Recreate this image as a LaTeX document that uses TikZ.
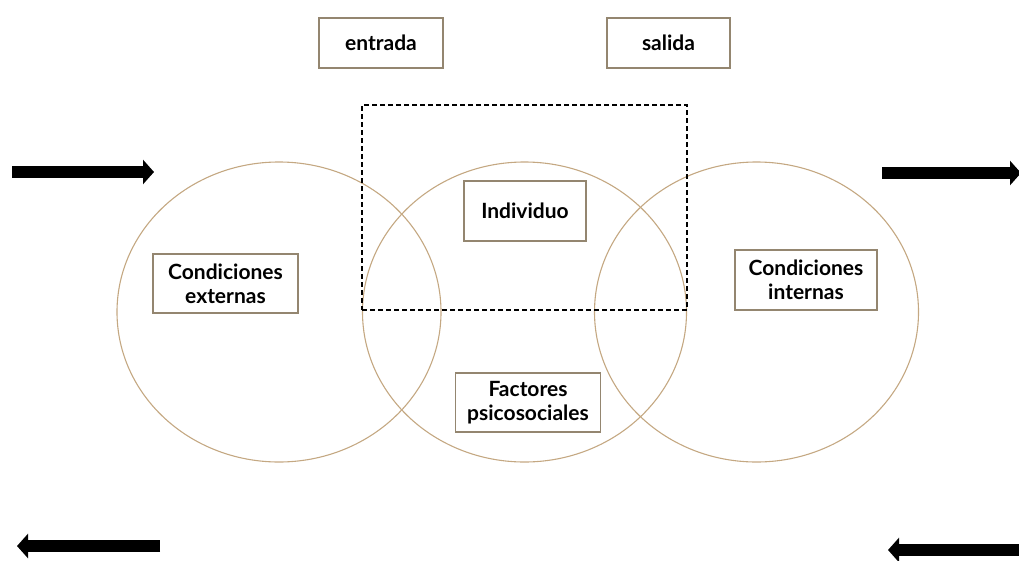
\documentclass[tikz,border=0pt]{standalone}
\usepackage{fontspec}
\setmainfont{Lato}
\usetikzlibrary{positioning, calc, shapes.geometric, arrows.meta}

\definecolor{ringcol}{RGB}{196,168,130}
\definecolor{boxcol}{RGB}{148,134,112}

\begin{document}
\begin{tikzpicture}[x=1pt, y=-1pt,
% Define custom styles for the rings, labels and arrows
    ring/.style={
        draw=ringcol,
        ellipse,
        line width=1.1pt,
        inner sep=0pt,
        minimum width=324pt,
        minimum height=300pt
        },
    labelbox/.style={
        draw=boxcol,
        rectangle,
        line width=1.1pt,
        fill=white,
        align=center,
        inner sep=0pt,
        font=\bfseries\fontsize{21}{24}\selectfont
        },
    bigarrow/.style={
        line width=12pt,
        -{Triangle[length=11pt, width=24pt]}
        }
]
\useasboundingbox (0,0) rectangle (1019,560);

\node[ring] (EXT) at (279,312) {};
\node[ring] (MID) at (524.5,312) {};
\node[ring] (INT) at (756.5,312) {};

\node[draw, dashed, dash pattern=on 5pt off 3pt, line width=1.1pt, inner sep=0pt,
      minimum width=325pt, minimum height=205pt] (SYS) at (524.5,207.5) {};

\node[labelbox, minimum width=124pt, minimum height=50pt] (IN) at (381,43) {entrada};
\node[labelbox, minimum width=123pt, minimum height=50pt] (OUT) at (668.5,43) {salida};
\node[labelbox, minimum width=122pt, minimum height=60pt] (IND) at (525,211) {Individuo};
\node[labelbox, minimum width=145pt, minimum height=59pt] (CE) at (225.5,283.5) {Condiciones\\externas};
\node[labelbox, minimum width=142pt, minimum height=60pt] (CI) at (806,280) {Condiciones\\internas};
\node[labelbox, minimum width=145pt, minimum height=59pt] (FP) at (528,402.5) {Factores\\psicosociales};

\coordinate (A1) at (12,172);
\coordinate (A2) at (154,172);
\coordinate (B1) at (882,173);
\coordinate (B2) at (1021,173);
\coordinate (C1) at (160,546);
\coordinate (C2) at (17,546);
\coordinate (D1) at (1019,550);
\coordinate (D2) at (888,550);

\draw[bigarrow] (A1) -- (A2);
\draw[bigarrow] (B1) -- (B2);
\draw[bigarrow] (C1) -- (C2);
\draw[bigarrow] (D1) -- (D2);

\end{tikzpicture}
\end{document}
